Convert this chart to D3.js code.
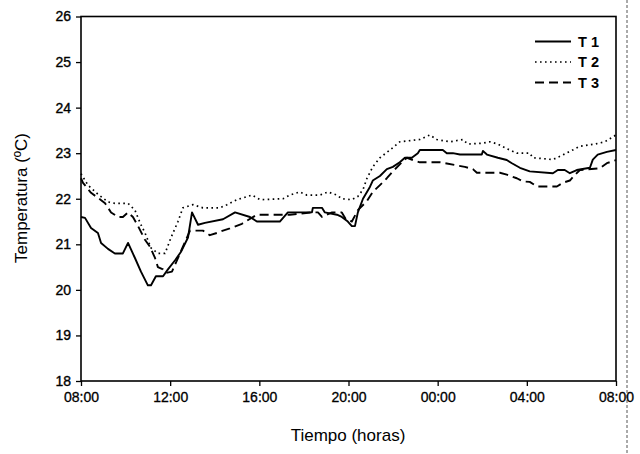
<!DOCTYPE html>
<html><head><meta charset="utf-8">
<script src="https://cdn.jsdelivr.net/npm/d3@7"></script>
<style>body{margin:0;background:#fff}svg{display:block}</style>
</head><body>
<script>
// hours elapsed since 08:00
const xTickLabels = ["08:00","12:00","16:00","20:00","00:00","04:00","08:00"];
const yTicks = [18,19,20,21,22,23,24,25,26];
const seriesNames = ["T 1","T 2","T 3"];

const t1Hours = [0,0.18,0.45,0.76,0.90,1.21,1.52,1.88,2.11,2.42,2.69,3.0,3.14,3.36,3.68,3.90,4.22,4.48,4.80,4.98,5.25,5.56,6.37,6.91,7.58,7.89,8.92,9.28,10.36,10.40,10.81,10.94,11.48,11.70,11.97,12.15,12.29,12.42,12.65,12.96,13.09,13.41,13.72,13.99,14.30,14.53,14.84,15.11,15.20,16.23,16.41,16.68,17.0,17.98,18.03,18.21,18.70,19.10,19.33,19.69,20.13,21.17,21.39,21.70,21.93,22.24,22.83,22.96,23.18,23.59,24];
const t1Temp = [21.6,21.58,21.36,21.25,21.03,20.9,20.8,20.8,21.03,20.7,20.4,20.1,20.1,20.3,20.3,20.45,20.65,20.83,21.15,21.7,21.43,21.47,21.55,21.7,21.6,21.5,21.5,21.7,21.7,21.8,21.8,21.7,21.65,21.6,21.5,21.4,21.4,21.7,22.0,22.26,22.4,22.5,22.65,22.7,22.8,22.9,22.9,23.0,23.07,23.07,23.0,23.0,22.97,22.97,23.05,22.97,22.9,22.85,22.78,22.68,22.6,22.56,22.63,22.63,22.56,22.63,22.68,22.86,22.97,23.03,23.07];

const t2Hours = [0,0.31,0.76,1.21,1.52,2.11,2.42,2.65,2.87,3.14,3.45,3.77,4.04,4.35,4.57,5.02,5.47,6.23,6.55,7.0,7.67,8.03,9.06,9.37,9.82,10.13,10.72,11.08,11.48,11.70,12.15,12.42,12.65,12.83,13.09,13.41,13.86,14.30,15.20,15.65,15.96,16.55,17.13,17.35,18.03,18.34,18.70,19.10,19.55,20.13,20.27,21.17,21.61,22.06,22.38,23.05,23.50,24];
const t2Temp = [22.55,22.3,22.1,21.93,21.9,21.9,21.75,21.47,21.25,20.92,20.8,20.8,21.15,21.5,21.8,21.87,21.8,21.8,21.87,21.98,22.08,21.98,22.0,22.08,22.15,22.08,22.08,22.15,22.08,22.0,21.98,22.05,22.2,22.45,22.7,22.9,23.07,23.25,23.3,23.4,23.3,23.25,23.3,23.2,23.22,23.25,23.2,23.1,23.0,23.0,22.9,22.86,22.96,23.07,23.15,23.2,23.25,23.4];

const t3Hours = [0,0.09,0.45,0.76,1.08,1.35,1.66,1.88,2.11,2.33,2.56,2.87,3.09,3.32,3.45,3.68,3.81,4.08,4.44,4.71,4.89,5.47,5.78,6.10,6.37,6.68,7.22,7.89,8.48,9.37,10.36,10.63,10.81,11.26,11.70,11.88,12.15,12.42,12.83,13.09,13.41,13.72,13.99,14.39,14.62,14.89,15.20,16.10,17.22,17.58,17.76,18.79,19.10,19.55,19.82,20.13,20.45,21.35,21.61,21.93,22.15,22.38,23.27,23.59,24];
const t3Temp = [22.45,22.35,22.13,22.02,21.9,21.7,21.6,21.6,21.7,21.6,21.4,21.1,20.95,20.7,20.5,20.45,20.37,20.4,20.8,21.1,21.3,21.3,21.2,21.25,21.3,21.35,21.45,21.65,21.65,21.65,21.7,21.7,21.6,21.7,21.7,21.55,21.5,21.75,21.95,22.15,22.3,22.45,22.6,22.8,22.9,22.85,22.8,22.8,22.7,22.65,22.57,22.57,22.53,22.45,22.38,22.37,22.27,22.27,22.35,22.4,22.52,22.63,22.67,22.78,22.85];

const W = 640, H = 454;
const m = {left: 81, right: 616, top: 16.5, bottom: 381};
const svg = d3.select("body").append("svg").attr("width", W).attr("height", H);
const font = "'Liberation Sans', Arial, sans-serif";

const x = d3.scaleLinear().domain([0, 24]).range([m.left, m.right]);
const y = d3.scaleLinear().domain([18, 26]).range([m.bottom, m.top]);

// scan artifact: dashed page margin line
svg.append("line").attr("x1", 627).attr("x2", 627).attr("y1", 0).attr("y2", H)
  .attr("stroke", "#555").attr("stroke-width", 1).attr("stroke-dasharray", "3,2");

const series = [
  {name: seriesNames[0], h: t1Hours, v: t1Temp, dash: null, w: 1.9},
  {name: seriesNames[1], h: t2Hours, v: t2Temp, dash: "1.6,3.4", w: 1.7},
  {name: seriesNames[2], h: t3Hours, v: t3Temp, dash: "9,5", w: 1.9}
];

const line = d3.line().x(d => x(d[0])).y(d => y(d[1]));
series.forEach(s => {
  const pts = s.h.map((h, i) => [h, s.v[i]]);
  const p = svg.append("path").datum(pts).attr("d", line)
    .attr("fill", "none").attr("stroke", "#000").attr("stroke-width", s.w)
    .attr("stroke-linejoin", "round");
  if (s.dash) p.attr("stroke-dasharray", s.dash);
});

// frame
svg.append("rect").attr("x", m.left).attr("y", m.top)
  .attr("width", m.right - m.left).attr("height", m.bottom - m.top)
  .attr("fill", "none").attr("stroke", "#000").attr("stroke-width", 1.6);

// y axis
const yAxis = svg.append("g").attr("transform", `translate(${m.left},0)`)
  .call(d3.axisLeft(y).tickValues(yTicks).tickSize(5).tickPadding(5).tickFormat(d3.format("d")));
yAxis.select(".domain").remove();
yAxis.selectAll("line").attr("stroke-width", 1.3);
yAxis.selectAll("text").attr("font-family", font).attr("font-size", 14).attr("fill", "#000")
  .attr("stroke", "#000").attr("stroke-width", 0.35);

// x axis
const xAxis = svg.append("g").attr("transform", `translate(0,${m.bottom})`)
  .call(d3.axisBottom(x).tickValues([0,4,8,12,16,20,24]).tickSize(5).tickPadding(6)
    .tickFormat((d, i) => xTickLabels[i]));
xAxis.select(".domain").remove();
xAxis.selectAll("line").attr("stroke-width", 1.3);
xAxis.selectAll("text").attr("font-family", font).attr("font-size", 14).attr("fill", "#000")
  .attr("stroke", "#000").attr("stroke-width", 0.3);

// axis titles
svg.append("text").attr("x", 348).attr("y", 441).attr("text-anchor", "middle")
  .attr("font-family", font).attr("font-size", 17).text("Tiempo (horas)");
svg.append("text").attr("transform", "translate(27,198) rotate(-90)").attr("text-anchor", "middle")
  .attr("font-family", font).attr("font-size", 17).text("Temperatura (ºC)");

// legend
const legY = [41.5, 62, 82.5];
series.forEach((s, i) => {
  const l = svg.append("line").attr("x1", 535).attr("x2", 571).attr("y1", legY[i]).attr("y2", legY[i])
    .attr("stroke", "#000").attr("stroke-width", s.w);
  if (s.dash) l.attr("stroke-dasharray", s.dash);
  svg.append("text").attr("x", 578).attr("y", legY[i] + 5).attr("font-family", font)
    .attr("font-size", 14.5).attr("font-weight", "bold").text(s.name);
});
</script>
</body></html>
